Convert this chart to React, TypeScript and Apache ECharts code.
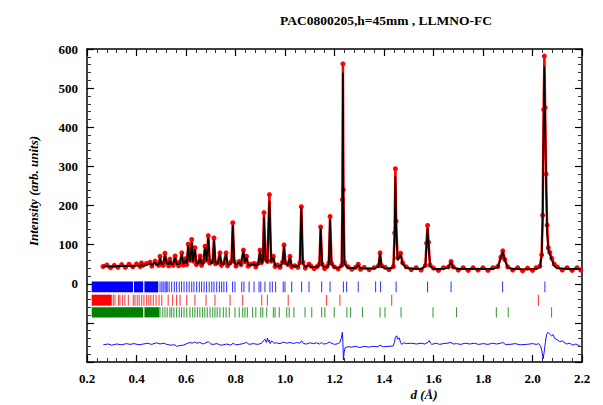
import React, { useEffect, useRef } from "react";
import * as echarts from "echarts";

const TITLE = "PAC0800205,h=45mm , LLMNO-FC";
const X_NAME = "d (Å)";
const Y_NAME = "Intensity (arb. units)";

// profile grid (d, Å) with observed and calculated intensities
const profileD = [
  0.265, 0.28, 0.295, 0.31, 0.325, 0.34, 0.355, 0.37, 0.385, 0.4, 0.415, 0.42, 0.425, 0.44, 0.455, 0.462, 0.475, 0.482, 0.49, 0.495,
  0.5, 0.508, 0.515, 0.522, 0.53, 0.535, 0.54, 0.548, 0.556, 0.562, 0.57, 0.576, 0.583, 0.589, 0.594, 0.598, 0.603, 0.609, 0.614, 0.618,
  0.623, 0.629, 0.636, 0.642, 0.65, 0.657, 0.663, 0.67, 0.677, 0.683, 0.69, 0.696, 0.703, 0.708, 0.713, 0.719, 0.728, 0.737, 0.743, 0.752,
  0.762, 0.768, 0.778, 0.784, 0.789, 0.795, 0.802, 0.815, 0.822, 0.832, 0.838, 0.845, 0.851, 0.862, 0.875, 0.882, 0.892, 0.899, 0.905, 0.911,
  0.915, 0.921, 0.929, 0.937, 0.944, 0.953, 0.96, 0.97, 0.98, 0.99, 0.996, 1.002, 1.012, 1.02, 1.027, 1.04, 1.052, 1.06, 1.066, 1.072,
  1.082, 1.097, 1.105, 1.118, 1.13, 1.139, 1.144, 1.15, 1.16, 1.17, 1.177, 1.182, 1.188, 1.2, 1.215, 1.229, 1.232, 1.234, 1.236, 1.24,
  1.255, 1.27, 1.285, 1.296, 1.305, 1.32, 1.34, 1.36, 1.378, 1.384, 1.39, 1.405, 1.42, 1.438, 1.443, 1.446, 1.449, 1.455, 1.467, 1.475,
  1.49, 1.51, 1.53, 1.55, 1.567, 1.572, 1.576, 1.58, 1.586, 1.6, 1.62, 1.64, 1.66, 1.671, 1.68, 1.7, 1.72, 1.74, 1.76, 1.78,
  1.8, 1.82, 1.84, 1.86, 1.872, 1.88, 1.888, 1.9, 1.92, 1.94, 1.96, 1.98, 2.0, 2.015, 2.03, 2.037, 2.041, 2.045, 2.048, 2.051,
  2.055, 2.059, 2.064, 2.07, 2.078, 2.088, 2.1, 2.12, 2.14, 2.16, 2.18, 2.195,
];
const observed = [
  44, 48, 41, 47, 42, 49, 42, 50, 43, 51, 44, 53, 47, 52, 55, 45, 58, 51, 47, 70,
  53, 47, 78, 55, 46, 63, 53, 47, 71, 54, 46, 56, 79, 48, 56, 64, 49, 101, 60, 62,
  113, 58, 92, 49, 55, 71, 47, 56, 96, 60, 123, 53, 56, 58, 117, 51, 54, 79, 47, 53,
  79, 46, 53, 58, 156, 57, 45, 57, 49, 86, 56, 70, 45, 50, 52, 43, 52, 86, 54, 62,
  182, 64, 57, 228, 58, 70, 44, 48, 42, 55, 99, 54, 49, 70, 43, 46, 42, 54, 197, 55,
  40, 50, 45, 39, 44, 50, 145, 50, 39, 44, 53, 172, 52, 43, 38, 47, 215, 562, 240, 55,
  43, 37, 42, 50, 37, 42, 36, 41, 46, 79, 46, 42, 36, 44, 130, 294, 160, 66, 78, 54,
  43, 36, 41, 35, 47, 104, 149, 106, 48, 40, 34, 41, 43, 57, 43, 35, 41, 34, 41, 35,
  41, 34, 41, 44, 68, 84, 62, 43, 35, 41, 33, 40, 34, 41, 45, 74, 175, 445, 582, 450,
  280, 150, 92, 80, 65, 50, 43, 35, 41, 34, 41, 35,
];
const calculated = [
  44, 44, 44, 44, 45, 45, 45, 46, 45, 46, 46, 50, 46, 47, 52, 47, 55, 48, 50, 66,
  50, 51, 74, 52, 50, 60, 50, 50, 68, 50, 50, 52, 76, 51, 52, 62, 52, 98, 58, 60,
  106, 56, 88, 52, 51, 68, 50, 52, 93, 58, 118, 56, 52, 56, 113, 54, 50, 76, 50, 49,
  76, 49, 50, 56, 150, 56, 48, 55, 48, 84, 55, 68, 48, 47, 50, 46, 50, 84, 52, 60,
  170, 60, 55, 212, 56, 68, 47, 46, 45, 52, 97, 52, 48, 68, 46, 44, 45, 52, 196, 52,
  43, 48, 43, 42, 42, 48, 142, 48, 42, 42, 50, 165, 50, 41, 41, 45, 200, 540, 220, 50,
  40, 40, 40, 48, 40, 39, 39, 39, 44, 77, 44, 39, 39, 42, 120, 274, 150, 60, 75, 50,
  40, 39, 38, 38, 45, 100, 143, 100, 45, 38, 38, 38, 41, 55, 41, 38, 38, 38, 38, 38,
  38, 38, 38, 42, 65, 82, 60, 41, 38, 38, 37, 37, 37, 38, 42, 70, 160, 420, 555, 420,
  250, 130, 85, 75, 60, 45, 40, 39, 38, 38, 38, 38,
];

// difference curve (offset in the plot)
const diffCurve = [
  [0.266, -156], [0.285, -154], [0.3, -157], [0.32, -154], [0.34, -156], [0.36, -153], [0.374, -155], [0.39, -153], [0.41, -156], [0.428, -154],
  [0.445, -152], [0.46, -155], [0.482, -151], [0.495, -154], [0.51, -152], [0.522, -155], [0.54, -157], [0.555, -156], [0.562, -160], [0.575, -158],
  [0.589, -157], [0.6, -154], [0.616, -150], [0.625, -152], [0.635, -149], [0.643, -152], [0.655, -150], [0.67, -154], [0.68, -151], [0.69, -148],
  [0.7, -154], [0.71, -155], [0.725, -153], [0.74, -157], [0.751, -156], [0.765, -154], [0.78, -157], [0.791, -152], [0.8, -156], [0.815, -155],
  [0.831, -153], [0.845, -150], [0.855, -155], [0.872, -153], [0.89, -155], [0.906, -152], [0.912, -146], [0.919, -142], [0.925, -150], [0.929, -139],
  [0.933, -148], [0.937, -144], [0.94, -153], [0.946, -146], [0.955, -152], [0.966, -151], [0.98, -153], [0.995, -149], [1.007, -152], [1.02, -150],
  [1.035, -153], [1.047, -150], [1.06, -152], [1.067, -146], [1.075, -153], [1.087, -154], [1.1, -151], [1.115, -153], [1.128, -151], [1.14, -154],
  [1.148, -150], [1.155, -154], [1.168, -153], [1.18, -149], [1.188, -152], [1.2, -155], [1.215, -153], [1.222, -150], [1.227, -140], [1.232, -124],
  [1.234, -150], [1.236, -195], [1.239, -175], [1.243, -163], [1.255, -161], [1.27, -162], [1.285, -160], [1.302, -163], [1.32, -160], [1.34, -162],
  [1.356, -160], [1.375, -161], [1.384, -157], [1.397, -161], [1.42, -160], [1.437, -159], [1.442, -150], [1.446, -137], [1.451, -133], [1.455, -142],
  [1.461, -138], [1.467, -150], [1.471, -155], [1.48, -151], [1.491, -153], [1.51, -152], [1.531, -154], [1.55, -152], [1.565, -154], [1.578, -150],
  [1.583, -145], [1.588, -152], [1.593, -155], [1.61, -152], [1.625, -155], [1.639, -153], [1.655, -152], [1.671, -150], [1.68, -154], [1.693, -153],
  [1.71, -155], [1.728, -152], [1.747, -154], [1.765, -152], [1.782, -155], [1.801, -153], [1.82, -155], [1.838, -152], [1.855, -154], [1.872, -152],
  [1.88, -150], [1.89, -155], [1.909, -155], [1.93, -153], [1.95, -156], [1.976, -155], [2.0, -153], [2.015, -155], [2.025, -153], [2.033, -160],
  [2.038, -172], [2.043, -192], [2.047, -175], [2.052, -150], [2.057, -130], [2.062, -124], [2.068, -128], [2.077, -133], [2.083, -130], [2.09, -140],
  [2.1, -143], [2.11, -148], [2.12, -146], [2.137, -154], [2.15, -152], [2.164, -157], [2.175, -154], [2.191, -159],
];

// Bragg reflection positions (d, Å): dense blocks [from, to] and single ticks
const phase1Blocks = [[0.219, 0.386], [0.39, 0.427], [0.432, 0.488]];
const phase1Ticks = [
  0.495, 0.502, 0.508, 0.515, 0.52, 0.524, 0.532, 0.542, 0.553, 0.562, 0.573, 0.582, 0.592, 0.603, 0.613, 0.623, 0.632, 0.643, 0.654, 0.663,
  0.673, 0.683, 0.694, 0.704, 0.713, 0.724, 0.735, 0.744, 0.753, 0.764, 0.788, 0.798, 0.825, 0.834, 0.855, 0.875, 0.895, 0.902, 0.919, 0.939,
  0.949, 0.962, 0.993, 1.0, 1.027, 1.067, 1.097, 1.148, 1.182, 1.236, 1.249, 1.296, 1.366, 1.386, 1.449, 1.576, 1.671, 1.879, 2.05,
];
const phase2Blocks = [[0.219, 0.3]];
const phase2Ticks = [
  0.306, 0.313, 0.327, 0.333, 0.344, 0.353, 0.367, 0.387, 0.394, 0.403, 0.411, 0.421, 0.43, 0.441, 0.45, 0.458, 0.468, 0.479, 0.491, 0.502,
  0.528, 0.546, 0.562, 0.576, 0.603, 0.636, 0.681, 0.717, 0.778, 0.829, 0.906, 0.929, 1.013, 1.168, 1.222, 1.431, 2.024,
];
const phase3Blocks = [[0.219, 0.427], [0.432, 0.492]];
const phase3Ticks = [
  0.495, 0.506, 0.515, 0.524, 0.535, 0.542, 0.551, 0.562, 0.573, 0.582, 0.592, 0.603, 0.616, 0.627, 0.636, 0.646, 0.656, 0.667, 0.676, 0.686,
  0.697, 0.708, 0.717, 0.726, 0.737, 0.751, 0.762, 0.775, 0.798, 0.815, 0.829, 0.838, 0.848, 0.869, 0.882, 0.902, 0.91, 0.926, 0.953, 0.96,
  0.977, 1.007, 1.017, 1.036, 1.081, 1.108, 1.148, 1.161, 1.199, 1.25, 1.265, 1.313, 1.384, 1.404, 1.469, 1.598, 1.693, 1.854, 1.902, 2.077,
];

const X_MIN = 0.2;
const X_MAX = 2.2;
const Y_MIN = -200;
const Y_MAX = 600;

const FONT = "'Liberation Serif', 'DejaVu Serif', serif";

function tickSeries(name: string, blocks: number[][], ticks: number[], color: string, yTop: number, yBot: number) {
  const data = [
    ...blocks.map((b) => [b[0], b[1], 1]),
    ...ticks.map((t) => [t, t, 0]),
  ];
  return {
    type: "custom",
    name,
    xAxisIndex: 0,
    yAxisIndex: 0,
    silent: true,
    z: 3,
    encode: { x: [0, 1] },
    data,
    renderItem: (params: any, api: any) => {
      const a = api.coord([api.value(0), yTop]);
      const b = api.coord([api.value(1), yBot]);
      const isBlock = api.value(2) === 1;
      const w = isBlock ? b[0] - a[0] : 1.1;
      const x = isBlock ? a[0] : a[0] - 0.55;
      return {
        type: "rect",
        shape: { x, y: a[1], width: w, height: b[1] - a[1] },
        style: { fill: color, opacity: isBlock ? 1 : 0.75 },
      };
    },
  };
}

export default function App() {
  const ref = useRef<HTMLDivElement>(null);
  useEffect(() => {
    if (!ref.current) return;
    document.body.style.margin = "0";
    const chart = echarts.init(ref.current, null, { renderer: "svg" });
    const axisLine = { show: true, onZero: false, lineStyle: { color: "#000", width: 1.5 } };
    const xCommon = {
      type: "value",
      min: X_MIN,
      max: X_MAX,
      interval: 0.2,
      axisLine,
      axisTick: { show: true, inside: true, length: 7, lineStyle: { color: "#000", width: 1.2 } },
      minorTick: { show: true, splitNumber: 5, length: 4, lineStyle: { color: "#333", width: 1 } },
      splitLine: { show: false },
    };
    const yCommon = {
      type: "value",
      min: Y_MIN,
      max: Y_MAX,
      interval: 100,
      axisLine,
      axisTick: { show: true, inside: true, length: 7, lineStyle: { color: "#000", width: 1.2 } },
      minorTick: { show: true, splitNumber: 5, length: 4, lineStyle: { color: "#333", width: 1 } },
      splitLine: { show: false },
    };
    chart.setOption({
      animation: false,
      backgroundColor: "#fff",
      grid: { left: 87, right: 21, top: 49, bottom: 43, containLabel: false },
      xAxis: [
        {
          ...xCommon,
          position: "bottom",
          axisLabel: {
            show: true,
            margin: 10,
            color: "#000",
            fontFamily: FONT,
            fontWeight: "bold",
            fontSize: 13,
            formatter: (v: number) => v.toFixed(1),
          },
        },
        { ...xCommon, position: "top", axisLabel: { show: false } },
      ],
      yAxis: [
        {
          ...yCommon,
          position: "left",
          axisLabel: {
            show: true,
            margin: 9,
            color: "#000",
            fontFamily: FONT,
            fontWeight: "bold",
            fontSize: 13,
            formatter: (v: number) => (v >= 0 ? String(v) : ""),
          },
        },
        { ...yCommon, position: "right", axisLabel: { show: false } },
      ],
      graphic: [
        {
          type: "text",
          x: 386,
          y: 20,
          style: {
            text: TITLE,
            fill: "#000",
            font: `bold 13.5px ${FONT}`,
            textAlign: "center",
            textVerticalAlign: "middle",
          },
        },
        {
          type: "text",
          x: 33,
          y: 191,
          rotation: Math.PI / 2,
          style: {
            text: Y_NAME,
            fill: "#000",
            font: `italic bold 13px ${FONT}`,
            textAlign: "center",
            textVerticalAlign: "middle",
          },
        },
        {
          type: "text",
          x: 424,
          y: 394,
          style: {
            text: X_NAME,
            fill: "#000",
            font: `italic bold 13px ${FONT}`,
            textAlign: "center",
            textVerticalAlign: "middle",
          },
        },
      ],
      series: [
        {
          type: "scatter",
          name: "Observed",
          data: profileD.map((d, i) => [d, observed[i]]),
          symbol: "circle",
          symbolSize: 5,
          itemStyle: { color: "#ff0000", opacity: 1 },
          z: 2,
          silent: true,
        },
        {
          type: "line",
          name: "Observed band",
          data: profileD.map((d, i) => [d, observed[i]]),
          showSymbol: false,
          lineStyle: { color: "#ff0000", width: 2.5 },
          z: 1,
          silent: true,
        },
        {
          type: "line",
          name: "Calculated",
          data: profileD.map((d, i) => [d, calculated[i]]),
          showSymbol: false,
          lineStyle: { color: "#000", width: 1.6 },
          z: 4,
          silent: true,
        },
        {
          type: "line",
          name: "Difference",
          data: diffCurve,
          showSymbol: false,
          lineStyle: { color: "#1010ff", width: 1 },
          z: 4,
          silent: true,
        },
        tickSeries("Phase 1", phase1Blocks, phase1Ticks, "#0000ff", 6, -22),
        tickSeries("Phase 2", phase2Blocks, phase2Ticks, "#ff0000", -28, -56),
        tickSeries("Phase 3", phase3Blocks, phase3Ticks, "#008000", -60, -86),
      ],
    });
    return () => chart.dispose();
  }, []);
  return <div ref={ref} style={{ width: 603, height: 405 }} />;
}
